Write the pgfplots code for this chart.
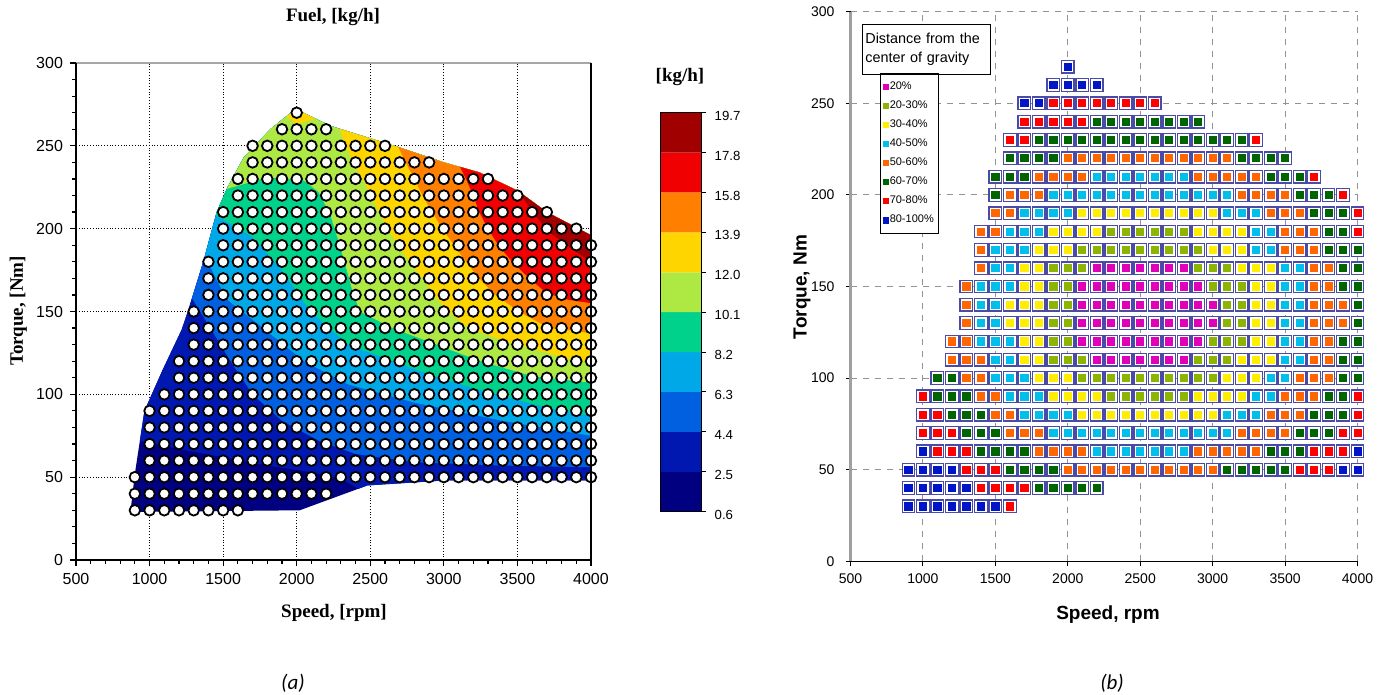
\documentclass[border=0pt]{standalone}
\usepackage{pgfplots}
\pgfplotsset{compat=1.18}
\usepackage{pgfplotstable}
\usepackage{fontspec}
\setmainfont{Liberation Sans}
\newfontfamily\tnr{Liberation Serif}
\newfontfamily\carlito{Carlito}

\definecolor{f0}{HTML}{000080}
\definecolor{f1}{HTML}{0018B0}
\definecolor{f2}{HTML}{0060E0}
\definecolor{f3}{HTML}{00A8E8}
\definecolor{f4}{HTML}{00D28C}
\definecolor{f5}{HTML}{AEE842}
\definecolor{f6}{HTML}{FFD500}
\definecolor{f7}{HTML}{FF7F00}
\definecolor{f8}{HTML}{F00000}
\definecolor{f9}{HTML}{A00000}

\definecolor{cm}{HTML}{E000B8}
\definecolor{cl}{HTML}{8CB400}
\definecolor{cy}{HTML}{FFEE00}
\definecolor{cc}{HTML}{00BFEA}
\definecolor{co}{HTML}{FF6600}
\definecolor{cg}{HTML}{006400}
\definecolor{cr}{HTML}{FF0000}
\definecolor{cb}{HTML}{0014C8}
\definecolor{sq}{HTML}{4A4AA8}

\pgfplotstableread[row sep=\\]{
x y c \\
2000 270 b \\
1900 260 b \\ 2000 260 b \\ 2100 260 b \\ 2200 260 b \\
1700 250 b \\ 1800 250 b \\ 1900 250 r \\ 2000 250 r \\ 2100 250 r \\ 2200 250 r \\ 2300 250 r \\ 2400 250 r \\ 2500 250 r \\ 2600 250 r \\
1700 240 r \\ 1800 240 r \\ 1900 240 r \\ 2000 240 r \\ 2100 240 r \\ 2200 240 g \\ 2300 240 g \\ 2400 240 g \\ 2500 240 g \\ 2600 240 g \\ 2700 240 g \\ 2800 240 g \\ 2900 240 g \\
1600 230 r \\ 1700 230 r \\ 1800 230 g \\ 1900 230 g \\ 2000 230 g \\ 2100 230 g \\ 2200 230 g \\ 2300 230 g \\ 2400 230 g \\ 2500 230 g \\ 2600 230 g \\ 2700 230 g \\ 2800 230 g \\ 2900 230 g \\ 3000 230 g \\ 3100 230 g \\ 3200 230 g \\ 3300 230 r \\
1600 220 g \\ 1700 220 g \\ 1800 220 g \\ 1900 220 g \\ 2000 220 o \\ 2100 220 o \\ 2200 220 o \\ 2300 220 o \\ 2400 220 o \\ 2500 220 o \\ 2600 220 o \\ 2700 220 o \\ 2800 220 o \\ 2900 220 o \\ 3000 220 o \\ 3100 220 o \\ 3200 220 g \\ 3300 220 g \\ 3400 220 g \\ 3500 220 g \\
1500 210 g \\ 1600 210 g \\ 1700 210 g \\ 1800 210 o \\ 1900 210 o \\ 2000 210 o \\ 2100 210 o \\ 2200 210 c \\ 2300 210 c \\ 2400 210 c \\ 2500 210 c \\ 2600 210 c \\ 2700 210 c \\ 2800 210 c \\ 2900 210 o \\ 3000 210 o \\ 3100 210 o \\ 3200 210 o \\ 3300 210 o \\ 3400 210 g \\ 3500 210 g \\ 3600 210 g \\ 3700 210 r \\
1500 200 g \\ 1600 200 o \\ 1700 200 o \\ 1800 200 o \\ 1900 200 c \\ 2000 200 c \\ 2100 200 c \\ 2200 200 c \\ 2300 200 c \\ 2400 200 c \\ 2500 200 c \\ 2600 200 c \\ 2700 200 c \\ 2800 200 c \\ 2900 200 c \\ 3000 200 c \\ 3100 200 c \\ 3200 200 o \\ 3300 200 o \\ 3400 200 o \\ 3500 200 o \\ 3600 200 g \\ 3700 200 g \\ 3800 200 g \\ 3900 200 r \\
1500 190 o \\ 1600 190 o \\ 1700 190 c \\ 1800 190 c \\ 1900 190 c \\ 2000 190 c \\ 2100 190 y \\ 2200 190 y \\ 2300 190 y \\ 2400 190 y \\ 2500 190 y \\ 2600 190 y \\ 2700 190 y \\ 2800 190 y \\ 2900 190 y \\ 3000 190 y \\ 3100 190 c \\ 3200 190 c \\ 3300 190 c \\ 3400 190 o \\ 3500 190 o \\ 3600 190 o \\ 3700 190 g \\ 3800 190 g \\ 3900 190 g \\ 4000 190 r \\
1400 180 o \\ 1500 180 o \\ 1600 180 c \\ 1700 180 c \\ 1800 180 c \\ 1900 180 y \\ 2000 180 y \\ 2100 180 y \\ 2200 180 y \\ 2300 180 l \\ 2400 180 l \\ 2500 180 l \\ 2600 180 l \\ 2700 180 l \\ 2800 180 l \\ 2900 180 y \\ 3000 180 y \\ 3100 180 y \\ 3200 180 y \\ 3300 180 c \\ 3400 180 c \\ 3500 180 o \\ 3600 180 o \\ 3700 180 o \\ 3800 180 g \\ 3900 180 g \\ 4000 180 r \\
1400 170 o \\ 1500 170 c \\ 1600 170 c \\ 1700 170 c \\ 1800 170 y \\ 1900 170 y \\ 2000 170 y \\ 2100 170 l \\ 2200 170 l \\ 2300 170 l \\ 2400 170 l \\ 2500 170 l \\ 2600 170 l \\ 2700 170 l \\ 2800 170 l \\ 2900 170 l \\ 3000 170 y \\ 3100 170 y \\ 3200 170 y \\ 3300 170 c \\ 3400 170 c \\ 3500 170 o \\ 3600 170 o \\ 3700 170 o \\ 3800 170 g \\ 3900 170 g \\ 4000 170 g \\
1400 160 o \\ 1500 160 c \\ 1600 160 c \\ 1700 160 y \\ 1800 160 y \\ 1900 160 l \\ 2000 160 l \\ 2100 160 l \\ 2200 160 m \\ 2300 160 m \\ 2400 160 m \\ 2500 160 m \\ 2600 160 m \\ 2700 160 m \\ 2800 160 m \\ 2900 160 l \\ 3000 160 l \\ 3100 160 l \\ 3200 160 y \\ 3300 160 y \\ 3400 160 y \\ 3500 160 c \\ 3600 160 c \\ 3700 160 o \\ 3800 160 o \\ 3900 160 g \\ 4000 160 g \\
1300 150 o \\ 1400 150 c \\ 1500 150 c \\ 1600 150 c \\ 1700 150 y \\ 1800 150 y \\ 1900 150 l \\ 2000 150 l \\ 2100 150 m \\ 2200 150 m \\ 2300 150 m \\ 2400 150 m \\ 2500 150 m \\ 2600 150 m \\ 2700 150 m \\ 2800 150 m \\ 2900 150 m \\ 3000 150 l \\ 3100 150 l \\ 3200 150 l \\ 3300 150 y \\ 3400 150 y \\ 3500 150 c \\ 3600 150 c \\ 3700 150 o \\ 3800 150 o \\ 3900 150 g \\ 4000 150 g \\
1300 140 o \\ 1400 140 c \\ 1500 140 c \\ 1600 140 y \\ 1700 140 y \\ 1800 140 y \\ 1900 140 l \\ 2000 140 l \\ 2100 140 m \\ 2200 140 m \\ 2300 140 m \\ 2400 140 m \\ 2500 140 m \\ 2600 140 m \\ 2700 140 m \\ 2800 140 m \\ 2900 140 m \\ 3000 140 m \\ 3100 140 l \\ 3200 140 l \\ 3300 140 y \\ 3400 140 y \\ 3500 140 c \\ 3600 140 c \\ 3700 140 o \\ 3800 140 o \\ 3900 140 o \\ 4000 140 g \\
1300 130 o \\ 1400 130 c \\ 1500 130 c \\ 1600 130 y \\ 1700 130 y \\ 1800 130 y \\ 1900 130 l \\ 2000 130 l \\ 2100 130 m \\ 2200 130 m \\ 2300 130 m \\ 2400 130 m \\ 2500 130 m \\ 2600 130 m \\ 2700 130 m \\ 2800 130 m \\ 2900 130 m \\ 3000 130 m \\ 3100 130 l \\ 3200 130 l \\ 3300 130 y \\ 3400 130 y \\ 3500 130 c \\ 3600 130 c \\ 3700 130 o \\ 3800 130 o \\ 3900 130 o \\ 4000 130 g \\
1200 120 o \\ 1300 120 o \\ 1400 120 c \\ 1500 120 c \\ 1600 120 c \\ 1700 120 y \\ 1800 120 y \\ 1900 120 l \\ 2000 120 l \\ 2100 120 m \\ 2200 120 m \\ 2300 120 m \\ 2400 120 m \\ 2500 120 m \\ 2600 120 m \\ 2700 120 m \\ 2800 120 m \\ 2900 120 m \\ 3000 120 l \\ 3100 120 l \\ 3200 120 l \\ 3300 120 y \\ 3400 120 y \\ 3500 120 c \\ 3600 120 c \\ 3700 120 o \\ 3800 120 o \\ 3900 120 g \\ 4000 120 g \\
1200 110 o \\ 1300 110 o \\ 1400 110 o \\ 1500 110 c \\ 1600 110 c \\ 1700 110 y \\ 1800 110 y \\ 1900 110 l \\ 2000 110 l \\ 2100 110 l \\ 2200 110 m \\ 2300 110 m \\ 2400 110 m \\ 2500 110 m \\ 2600 110 m \\ 2700 110 m \\ 2800 110 m \\ 2900 110 l \\ 3000 110 l \\ 3100 110 l \\ 3200 110 y \\ 3300 110 y \\ 3400 110 y \\ 3500 110 c \\ 3600 110 c \\ 3700 110 o \\ 3800 110 o \\ 3900 110 g \\ 4000 110 g \\
1100 100 g \\ 1200 100 g \\ 1300 100 o \\ 1400 100 o \\ 1500 100 c \\ 1600 100 c \\ 1700 100 c \\ 1800 100 y \\ 1900 100 y \\ 2000 100 y \\ 2100 100 l \\ 2200 100 l \\ 2300 100 l \\ 2400 100 l \\ 2500 100 l \\ 2600 100 l \\ 2700 100 l \\ 2800 100 l \\ 2900 100 l \\ 3000 100 l \\ 3100 100 y \\ 3200 100 y \\ 3300 100 y \\ 3400 100 c \\ 3500 100 c \\ 3600 100 o \\ 3700 100 o \\ 3800 100 o \\ 3900 100 g \\ 4000 100 g \\
1000 90 r \\ 1100 90 g \\ 1200 90 g \\ 1300 90 g \\ 1400 90 o \\ 1500 90 o \\ 1600 90 c \\ 1700 90 c \\ 1800 90 c \\ 1900 90 y \\ 2000 90 y \\ 2100 90 y \\ 2200 90 y \\ 2300 90 l \\ 2400 90 l \\ 2500 90 l \\ 2600 90 l \\ 2700 90 l \\ 2800 90 l \\ 2900 90 y \\ 3000 90 y \\ 3100 90 y \\ 3200 90 y \\ 3300 90 c \\ 3400 90 c \\ 3500 90 o \\ 3600 90 o \\ 3700 90 o \\ 3800 90 g \\ 3900 90 g \\ 4000 90 r \\
1000 80 r \\ 1100 80 r \\ 1200 80 g \\ 1300 80 g \\ 1400 80 g \\ 1500 80 o \\ 1600 80 o \\ 1700 80 c \\ 1800 80 c \\ 1900 80 c \\ 2000 80 c \\ 2100 80 y \\ 2200 80 y \\ 2300 80 y \\ 2400 80 y \\ 2500 80 y \\ 2600 80 y \\ 2700 80 y \\ 2800 80 y \\ 2900 80 y \\ 3000 80 y \\ 3100 80 c \\ 3200 80 c \\ 3300 80 c \\ 3400 80 o \\ 3500 80 o \\ 3600 80 o \\ 3700 80 g \\ 3800 80 g \\ 3900 80 g \\ 4000 80 r \\
1000 70 r \\ 1100 70 r \\ 1200 70 r \\ 1300 70 g \\ 1400 70 g \\ 1500 70 g \\ 1600 70 o \\ 1700 70 o \\ 1800 70 o \\ 1900 70 c \\ 2000 70 c \\ 2100 70 c \\ 2200 70 c \\ 2300 70 c \\ 2400 70 c \\ 2500 70 c \\ 2600 70 c \\ 2700 70 c \\ 2800 70 c \\ 2900 70 c \\ 3000 70 c \\ 3100 70 c \\ 3200 70 o \\ 3300 70 o \\ 3400 70 o \\ 3500 70 o \\ 3600 70 g \\ 3700 70 g \\ 3800 70 g \\ 3900 70 r \\ 4000 70 r \\
1000 60 b \\ 1100 60 r \\ 1200 60 r \\ 1300 60 r \\ 1400 60 g \\ 1500 60 g \\ 1600 60 g \\ 1700 60 g \\ 1800 60 o \\ 1900 60 o \\ 2000 60 o \\ 2100 60 o \\ 2200 60 c \\ 2300 60 c \\ 2400 60 c \\ 2500 60 c \\ 2600 60 c \\ 2700 60 c \\ 2800 60 c \\ 2900 60 o \\ 3000 60 o \\ 3100 60 o \\ 3200 60 o \\ 3300 60 o \\ 3400 60 g \\ 3500 60 g \\ 3600 60 g \\ 3700 60 r \\ 3800 60 r \\ 3900 60 r \\ 4000 60 b \\
900 50 b \\ 1000 50 b \\ 1100 50 b \\ 1200 50 b \\ 1300 50 r \\ 1400 50 r \\ 1500 50 r \\ 1600 50 g \\ 1700 50 g \\ 1800 50 g \\ 1900 50 g \\ 2000 50 o \\ 2100 50 o \\ 2200 50 o \\ 2300 50 o \\ 2400 50 o \\ 2500 50 o \\ 2600 50 o \\ 2700 50 o \\ 2800 50 o \\ 2900 50 o \\ 3000 50 o \\ 3100 50 g \\ 3200 50 g \\ 3300 50 g \\ 3400 50 g \\ 3500 50 g \\ 3600 50 r \\ 3700 50 r \\ 3800 50 r \\ 3900 50 b \\ 4000 50 b \\
900 40 b \\ 1000 40 b \\ 1100 40 b \\ 1200 40 b \\ 1300 40 b \\ 1400 40 r \\ 1500 40 r \\ 1600 40 r \\ 1700 40 r \\ 1800 40 g \\ 1900 40 g \\ 2000 40 g \\ 2100 40 g \\ 2200 40 g \\
900 30 b \\ 1000 30 b \\ 1100 30 b \\ 1200 30 b \\ 1300 30 b \\ 1400 30 b \\ 1500 30 b \\ 1600 30 r \\
}\grid

\begin{document}
\begin{tikzpicture}
\path[use as bounding box] (0pt,0pt) rectangle (693pt,347.5pt);

% ---------------- panel (a) ----------------
\begin{axis}[
  at={(38pt,67.5pt)}, anchor=south west, scale only axis,
  width=257.5pt, height=248.5pt,
  xmin=500, xmax=4000, ymin=0, ymax=300,
  xtick={500,1000,...,4000}, ytick={0,50,...,300},
  minor x tick num=4, minor y tick num=4,
  tick align=outside, tick pos=left,
  major tick length=3pt, minor tick length=1.8pt,
  tick style={black, line width=0.6pt},
  grid=major, major grid style={black, densely dotted, line width=0.45pt},
  axis line style={draw=none},
  ticklabel style={font=\fontsize{8}{9}\selectfont},
  /pgf/number format/assume math mode=true,
  /pgf/number format/1000 sep={},
]
\addplot[fill=f0,draw=none] coordinates {(870,29) (900,52) (965,90) (1090,115) (1218,139) (1260,150) (1365,180) (1456,210) (1530,225) (1640,243) (1820,260) (1960,270) (2000,272) (2230,262) (2700,249) (3000,240) (3240,234) (3500,223) (3700,210) (4000,196) (4000,48) (3000,48) (2480,45) (2020,30) (870,29)};
\addplot[fill=f1,draw=none] coordinates {(934,72) (1200,67) (1500,62) (1800,57) (2100,53) (2300,49) (2420,43) (2480,45) (3000,48) (4000,48) (4000,196) (3700,210) (3500,223) (3240,234) (3000,240) (2700,249) (2230,262) (2000,272) (1960,270) (1820,260) (1640,243) (1530,225) (1456,210) (1365,180) (1260,150) (1218,139) (1090,115) (965,90) (934,72)};
\addplot[fill=f2,draw=none] coordinates {(1288,158) (1400,142) (1550,120) (1700,100) (1900,84) (2150,72) (2400,64) (2800,59) (3400,57) (4000,56) (4000,196) (3700,210) (3500,223) (3240,234) (3000,240) (2700,249) (2230,262) (2000,272) (1960,270) (1820,260) (1640,243) (1530,225) (1456,210) (1365,180) (1288,158)};
\addplot[fill=f3,draw=none] coordinates {(1377,184) (1450,170) (1530,157) (1800,138) (2050,120) (2350,106) (2800,95) (3400,84) (4000,75) (4000,196) (3700,210) (3500,223) (3240,234) (3000,240) (2700,249) (2230,262) (2000,272) (1960,270) (1820,260) (1640,243) (1530,225) (1456,210) (1377,184)};
\addplot[fill=f4,draw=none] coordinates {(1450,208) (1700,195) (1900,175) (2095,150) (2350,130) (2650,120) (3000,109) (3310,101) (3700,92) (4000,87) (4000,196) (3700,210) (3500,223) (3240,234) (3000,240) (2700,249) (2230,262) (2000,272) (1960,270) (1820,260) (1640,243) (1530,225) (1456,210) (1450,208)};
\addplot[fill=f5,draw=none] coordinates {(1525,224) (1800,231) (2050,229) (2150,222) (2230,208) (2300,188) (2380,162) (2430,150) (2650,140) (2950,130) (3250,120) (3600,111) (4000,107) (4000,196) (3700,210) (3500,223) (3240,234) (3000,240) (2700,249) (2230,262) (2000,272) (1960,270) (1820,260) (1640,243) (1530,225) (1525,224)};
\addplot[fill=f6,draw=none] coordinates {(2290,260.3) (2380,240) (2450,230) (2500,220) (2560,210) (2620,200) (2690,190) (2765,180) (2855,170) (2930,160) (3030,150) (3170,140) (3450,131) (3870,121) (4000,119) (4000,196) (3700,210) (3500,223) (3240,234) (3000,240) (2700,249) (2290,260.3)};
\addplot[fill=f6,draw=none] coordinates {(1930,267.9) (2000,263) (2130,266.3) (2000,272) (1930,267.9)};
\addplot[fill=f7,draw=none] coordinates {(2690,249.3) (2740,240) (2800,230) (2855,220) (2920,210) (2990,200) (3070,190) (3150,180) (3240,170) (3350,160) (3510,150) (3714,140) (4000,137) (4000,196) (3700,210) (3500,223) (3240,234) (3000,240) (2700,249) (2690,249.3)};
\addplot[fill=f8,draw=none] coordinates {(3110,237.3) (3150,230) (3200,220) (3240,210) (3300,200) (3370,190) (3465,180) (3580,170) (3700,161) (3850,157) (4000,155) (4000,196) (3700,210) (3500,223) (3240,234) (3110,237.3)};
\addplot[fill=f9,draw=none] coordinates {(3500,223) (3600,211) (3700,199) (3850,189) (4000,180) (4000,196) (3700,210) (3500,223)};
\addplot[only marks, mark=*, mark size=2.65pt, mark options={fill=white, draw=black, line width=0.9pt}] table[x=x,y=y] {\grid};
\end{axis}
\draw[gray!70, line width=0.6pt] (38pt,316pt) -- (295.5pt,316pt);
\draw[black, line width=0.9pt] (295.5pt,316pt) -- (295.5pt,67.5pt) -- (38pt,67.5pt) -- (38pt,316pt);

% colorbar
\begin{axis}[
  at={(330.3pt,91.65pt)}, anchor=south west, scale only axis,
  width=20.5pt, height=199.5pt,
  xmin=0, xmax=1, ymin=0, ymax=10,
  xtick=\empty, ytick={0,1,...,10},
  yticklabels={0.6,2.5,4.4,6.3,8.2,10.1,12.0,13.9,15.8,17.8,19.7},
  ytick pos=right, yticklabel pos=right,
  tick align=outside, major tick length=2pt,
  tick style={black, line width=0.5pt},
  yticklabel style={font=\fontsize{6.6}{7}\selectfont, xshift=1pt, yshift=-1.5pt},
  axis on top, axis line style={line width=0.8pt},
]
\addplot[fill=f0,draw=none] coordinates {(0,0) (1,0) (1,1) (0,1) (0,0)};
\addplot[fill=f1,draw=none] coordinates {(0,1) (1,1) (1,2) (0,2) (0,1)};
\addplot[fill=f2,draw=none] coordinates {(0,2) (1,2) (1,3) (0,3) (0,2)};
\addplot[fill=f3,draw=none] coordinates {(0,3) (1,3) (1,4) (0,4) (0,3)};
\addplot[fill=f4,draw=none] coordinates {(0,4) (1,4) (1,5) (0,5) (0,4)};
\addplot[fill=f5,draw=none] coordinates {(0,5) (1,5) (1,6) (0,6) (0,5)};
\addplot[fill=f6,draw=none] coordinates {(0,6) (1,6) (1,7) (0,7) (0,6)};
\addplot[fill=f7,draw=none] coordinates {(0,7) (1,7) (1,8) (0,8) (0,7)};
\addplot[fill=f8,draw=none] coordinates {(0,8) (1,8) (1,9) (0,9) (0,8)};
\addplot[fill=f9,draw=none] coordinates {(0,9) (1,9) (1,10) (0,10) (0,9)};
\end{axis}

\node[font=\tnr\bfseries\fontsize{9.5}{11}\selectfont] at (166.5pt,339pt) {Fuel, [kg/h]};
\node[font=\tnr\bfseries\fontsize{9.5}{11}\selectfont, rotate=90] at (9.2pt,192pt) {Torque, [Nm]};
\node[font=\tnr\bfseries\fontsize{9.5}{11}\selectfont] at (167pt,41pt) {Speed, [rpm]};
\node[font=\tnr\bfseries\fontsize{9.5}{11}\selectfont] at (340pt,309pt) {[kg/h]};
\node[font=\carlito\itshape\fontsize{10.5}{12}\selectfont] at (146.5pt,6pt) {(a)};

% ---------------- panel (b) ----------------
\begin{axis}[
  at={(425.25pt,66.85pt)}, anchor=south west, scale only axis,
  width=253.5pt, height=274.8pt,
  xmin=500, xmax=4000, ymin=0, ymax=300,
  xtick={500,1000,...,4000}, ytick={0,50,...,300},
  axis x line*=bottom, axis y line*=left,
  x axis line style={black, line width=0.6pt},
  y axis line style={gray!75, line width=1.3pt},
  tick align=outside, major tick length=2.5pt,
  tick style={black, line width=0.5pt},
  grid=major, major grid style={gray!85, dashed, line width=0.5pt},
  ticklabel style={font=\fontsize{7}{8}\selectfont},
  yticklabel style={xshift=-2pt},
  /pgf/number format/assume math mode=true,
  /pgf/number format/1000 sep={},
  clip=false,
  legend style={at={(0.0575,0.888)}, anchor=north west, draw=black, line width=0.7pt, fill=white,
    font=\fontsize{5.5}{6}\selectfont, row sep=2.6pt, inner xsep=1.5pt, inner ysep=3pt,
    nodes={inner sep=0.8pt}},
  legend cell align=left,
  legend image code/.code={\draw[mark repeat=2,mark phase=2,#1,mark size=1.2pt] plot coordinates {(0cm,0cm) (0.1cm,0cm) (0.2cm,0cm)};},
]
\addplot[only marks, mark=square*, mark size=3.15pt, mark options={fill=white, draw=sq, line width=0.65pt}, forget plot] table[x=x,y=y] {\grid};
\addplot[scatter, only marks, mark size=1.8pt, scatter src=explicit symbolic,
  scatter/classes={
    m={mark=square*, fill=cm, draw=cm},
    l={mark=square*, fill=cl, draw=cl},
    y={mark=square*, fill=cy, draw=cy},
    c={mark=square*, fill=cc, draw=cc},
    o={mark=square*, fill=co, draw=co},
    g={mark=square*, fill=cg, draw=cg},
    r={mark=square*, fill=cr, draw=cr},
    b={mark=square*, fill=cb, draw=cb}}]
  table[x=x,y=y,meta=c] {\grid};
\legend{20\%, 20-30\%, 30-40\%, 40-50\%, 50-60\%, 60-70\%, 70-80\%, 80-100\%}
\node[draw=black, line width=0.7pt, fill=white, anchor=north west, align=left,
  text width=61pt, minimum height=25pt, inner xsep=1.5pt, inner ysep=2pt,
  font=\fontsize{7.2}{9.5}\selectfont] at (rel axis cs:0.022,0.978) {Distance from the\\center of gravity};
\end{axis}

\node[font=\bfseries\fontsize{9.5}{11}\selectfont, rotate=90] at (401pt,204pt) {Torque, Nm};
\node[font=\bfseries\fontsize{9.5}{11}\selectfont] at (554pt,40pt) {Speed, rpm};
\node[font=\carlito\itshape\fontsize{10.5}{12}\selectfont] at (556pt,6pt) {(b)};
\end{tikzpicture}
\end{document}
